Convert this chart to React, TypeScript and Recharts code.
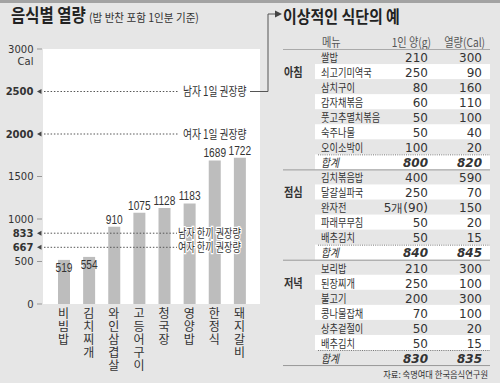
import React from 'react';
import { BarChart, Bar, XAxis, YAxis, CartesianGrid, ReferenceLine, LabelList } from 'recharts';

// ---- chart data ----
const foods = ['비빔밥', '김치찌개', '와인삼겹살', '고등어구이', '청국장', '영양밥', '한정식', '돼지갈비'];
const calories = [519, 554, 910, 1075, 1128, 1183, 1689, 1722];
const yTicks = [0, 500, 667, 833, 1000, 1500, 2000, 2500, 3000];
const guideValues = [2500, 2000, 833, 667];
const guideLabels = ['남자 1일 권장량', '여자 1일 권장량', '남자 한끼 권장량', '여자 한끼 권장량'];
const chartTitle = '음식별 열량';
const chartSubtitle = '(밥 반찬 포함 1인분 기준)';
const unitLabel = 'Cal';

// ---- table data ----
const tableTitle = '이상적인 식단의 예';
const tableHeaders = ['메뉴', '1인 양(g)', '열량(Cal)'];
const meals = ['아침', '점심', '저녁'];
const breakfastMenu = ['쌀밥', '쇠고기미역국', '삼치구이', '감자채볶음', '풋고추멸치볶음', '숙주나물', '오이소박이'];
const breakfastGrams = ['210', '250', '80', '60', '50', '50', '100'];
const breakfastCal = [300, 90, 160, 110, 100, 40, 20];
const lunchMenu = ['김치볶음밥', '달걀실파국', '완자전', '파래무무침', '배추김치'];
const lunchGrams = ['400', '250', '5개(90)', '50', '50'];
const lunchCal = [590, 70, 150, 20, 15];
const dinnerMenu = ['보리밥', '된장찌개', '불고기', '콩나물잡채', '상추겉절이', '배추김치'];
const dinnerGrams = ['210', '250', '200', '70', '50', '50'];
const dinnerCal = [300, 100, 300, 100, 20, 15];
const totalLabel = '합계';
const totalGrams = [800, 840, 830];
const totalCal = [820, 845, 835];
const sourceText = '자료: 숙명여대 한국음식연구원';

const data = foods.map((name, i) => ({ name, kcal: calories[i] }));

const KR = "'Noto Sans CJK KR', 'Noto Sans', sans-serif";
const NUM = "'DejaVu Sans', sans-serif";
const LIB = "'Liberation Sans', Arial, sans-serif";
const TXT = '#333';

const KText = ({ x, y, size, sx = 1, anchor = 'start', weight = 400, italic = false, fill = TXT, family = KR, children, halo = false }: any) => (
  <text
    transform={`translate(${x},${y}) scale(${sx},1)`}
    fontSize={size}
    textAnchor={anchor}
    fontWeight={weight}
    fontStyle={italic ? 'italic' : 'normal'}
    fill={fill}
    fontFamily={family}
    stroke={halo ? '#fff' : undefined}
    strokeWidth={halo ? 2.5 : undefined}
    paintOrder={halo ? 'stroke' : undefined}
  >
    {children}
  </text>
);

const YTick = (props: any) => {
  const { x, y, payload } = props;
  const v = payload.value;
  const isGuide = guideValues.includes(v);
  return (
    <g>
      {isGuide ? (
        <polygon points={`${x - 6},${y} ${x - 1.5},${y - 2.5} ${x - 1.5},${y + 2.5}`} fill="#444" />
      ) : (
        <line x1={x - 6} x2={x - 1} y1={y} y2={y} stroke="#999" />
      )}
      <text x={x - 9.5} y={y + 3.5} textAnchor="end" fontSize={10} fontWeight={isGuide ? 700 : 400} fill={TXT} fontFamily={NUM}>
        {v}
      </text>
      {v === 3000 && (
        <text x={x - 9.5} y={y + 16} textAnchor="end" fontSize={10} fill={TXT} fontFamily={NUM}>
          {unitLabel}
        </text>
      )}
    </g>
  );
};

const XTick = (props: any) => {
  const { x, y, payload } = props;
  const chars = String(payload.value).split('');
  return (
    <text x={x} y={y + 13.5} textAnchor="middle" fontSize={12} fill={TXT} fontFamily={KR}>
      {chars.map((c, i) => (
        <tspan key={i} x={x} dy={i === 0 ? 0 : 13}>
          {c}
        </tspan>
      ))}
    </text>
  );
};

const BarValue = (props: any) => {
  const { x, y, width, value } = props;
  const inside = value < 600;
  return (
    <KText x={x + width / 2} y={inside ? y + 12 : y - 3} size={13} sx={0.78} anchor="middle" family={LIB}>
      {value}
    </KText>
  );
};

const GuideShape = (p: any) => {
  const x0 = Math.min(p.x1, p.x2);
  const y = p.y1;
  const idx = p.idx;
  const daily = idx < 2;
  const lineEnd = x0 + (daily ? 135 : 134);
  const textX = x0 + (daily ? 140 : 135);
  return (
    <g>
      <line x1={x0 + 1} x2={lineEnd} y1={y} y2={y} stroke="#555" strokeDasharray="1.5 1.8" />
      <KText x={textX} y={y + 4.5} size={12.5} sx={daily ? 0.78 : 0.73} halo={!daily}>
        {guideLabels[idx]}
      </KText>
      {idx === 0 && (
        <g>
          <polyline points={`${x0 + 207},${y} ${x0 + 225},${y} ${x0 + 225},14 ${x0 + 233},14`} fill="none" stroke="#555" />
          <polygon points={`${x0 + 232},10.5 ${x0 + 239},14 ${x0 + 232},17.5`} fill="#444" />
        </g>
      )}
    </g>
  );
};

const groups = [
  { meal: meals[0], menu: breakfastMenu, grams: breakfastGrams, cal: breakfastCal, tg: totalGrams[0], tc: totalCal[0] },
  { meal: meals[1], menu: lunchMenu, grams: lunchGrams, cal: lunchCal, tg: totalGrams[1], tc: totalCal[1] },
  { meal: meals[2], menu: dinnerMenu, grams: dinnerGrams, cal: dinnerCal, tg: totalGrams[2], tc: totalCal[2] },
];

const ROW_TOP = 49;
const ROW_H = 15.05;
const rowTop = (i: number) => ROW_TOP + ROW_H * i;

const Table = () => {
  const els: any[] = [];
  let r = 0;
  groups.forEach((g, gi) => {
    const start = r;
    const n = g.menu.length + 1;
    for (let k = 0; k < n; k++) {
      const top = rowTop(r);
      const base = top + 12.8;
      const isTotal = k === g.menu.length;
      if (k % 2 === 1) {
        els.push(<rect key={`bg${r}`} x={315} y={top} width={175} height={ROW_H} fill="#fff" />);
      }
      if (isTotal) {
        els.push(<line key={`dl${r}`} x1={318} x2={490} y1={top + 0.5} y2={top + 0.5} stroke="#777" strokeDasharray="1 1.2" />);
        els.push(<KText key={`t${r}`} x={321} y={base} size={11.5} sx={0.85} italic>{totalLabel}</KText>);
        els.push(<text key={`g${r}`} x={428} y={base} textAnchor="end" fontSize={12} fontWeight={700} fontStyle="italic" fill={TXT} fontFamily={NUM}>{g.tg}</text>);
        els.push(<text key={`c${r}`} x={482} y={base} textAnchor="end" fontSize={12} fontWeight={700} fontStyle="italic" fill={TXT} fontFamily={NUM}>{g.tc}</text>);
      } else {
        els.push(<KText key={`t${r}`} x={321} y={base} size={11.8} sx={0.78}>{g.menu[k]}</KText>);
        els.push(<text key={`g${r}`} x={428} y={base} textAnchor="end" fontSize={12} fill={TXT} fontFamily={NUM}>{g.grams[k]}</text>);
        els.push(<text key={`c${r}`} x={482} y={base} textAnchor="end" fontSize={12} fill={TXT} fontFamily={NUM}>{g.cal[k]}</text>);
      }
      r++;
    }
    els.push(<KText key={`m${gi}`} x={284} y={rowTop(start + 1) + 12.8} size={12} sx={0.85} weight={700}>{g.meal}</KText>);
    els.push(<line key={`sl${gi}`} x1={283} x2={490} y1={rowTop(r) + 0.5} y2={rowTop(r) + 0.5} stroke="#999" />);
  });
  return <g>{els}</g>;
};

export default function App() {
  return (
    <div style={{ position: 'absolute', left: 0, top: 0, width: 500, height: 383, background: '#e6e6e6', overflow: 'hidden' }}>
      <div style={{ position: 'absolute', left: 0, top: 0 }}>
        <BarChart width={500} height={383} data={data} margin={{ top: 49, right: 240, bottom: 0, left: 0 }}>
          <CartesianGrid horizontal={false} vertical={false} fill="#ffffff" />
          <XAxis
            dataKey="name"
            interval={0}
            height={79}
            tickLine={false}
            axisLine={false}
            tickSize={0}
            tickMargin={0}
            padding={{ left: 8, right: 8 }}
            tick={<XTick />}
          />
          <YAxis
            domain={[0, 3000]}
            ticks={yTicks}
            interval={0}
            width={43}
            axisLine={false}
            tickLine={false}
            tickSize={0}
            tickMargin={0}
            tick={<YTick />}
          />
          <Bar dataKey="kcal" fill="#bdbdbd" barSize={12} isAnimationActive={false}>
            <LabelList dataKey="kcal" content={<BarValue />} />
          </Bar>
          {guideValues.map((v, i) => (
            <ReferenceLine key={v} y={v} ifOverflow="visible" shape={(p: any) => <GuideShape {...p} idx={i} />} />
          ))}
        </BarChart>
      </div>
      <svg width={500} height={383} style={{ position: 'absolute', left: 0, top: 0, pointerEvents: 'none' }}>
        <rect x={0} y={0} width={500} height={3} fill="#a3a3a3" />
        <KText x={11} y={22} size={18} sx={0.86} weight={700} fill="#222">{chartTitle}</KText>
        <KText x={89} y={22} size={11.5} sx={0.92} fill="#333">{chartSubtitle}</KText>
        <KText x={283} y={23} size={17} sx={0.88} weight={700} fill="#222">{tableTitle}</KText>
        <KText x={322} y={47} size={12} sx={0.85} fill="#555">{tableHeaders[0]}</KText>
        <KText x={431} y={47} size={12} sx={0.85} anchor="end" fill="#555">{tableHeaders[1]}</KText>
        <KText x={485} y={47} size={12} sx={0.85} anchor="end" fill="#555">{tableHeaders[2]}</KText>
        <line x1={283} x2={490} y1={49.5} y2={49.5} stroke="#aaa" />
        <Table />
        <KText x={488} y={378} size={9} sx={0.92} anchor="end" fill="#333">{sourceText}</KText>
      </svg>
    </div>
  );
}
